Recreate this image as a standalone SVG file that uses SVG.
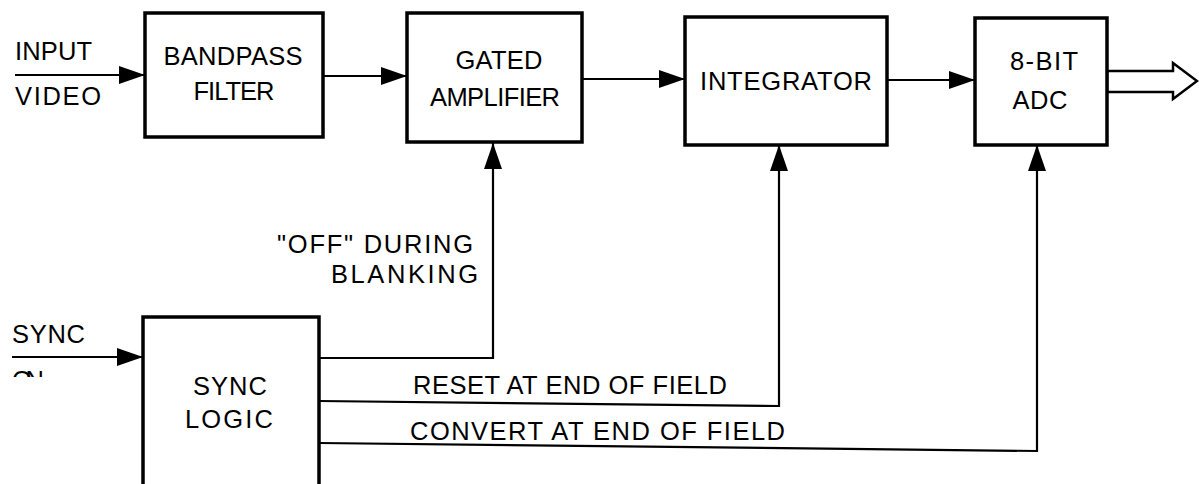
<svg xmlns="http://www.w3.org/2000/svg" width="1199" height="484" viewBox="0 0 1199 484">
  <style>
    .box { fill: #fff; stroke: #000; stroke-width: 3.5; }
    .wire { fill: none; stroke: #000; stroke-width: 2.2; }
    .lbl { font-family: "Liberation Sans", Arial, sans-serif; font-size: 25.5px; fill: #000; }
    .mid { text-anchor: middle; }
  </style>
  <defs>
    <marker id="arr" markerUnits="userSpaceOnUse" markerWidth="28" markerHeight="20" refX="26" refY="9" orient="auto">
      <path d="M0,0 L26,9 L0,18 Z" fill="#000"/>
    </marker>
    <clipPath id="clipOn">
      <rect x="0" y="360" width="120" height="17"/>
    </clipPath>
  </defs>

  <g id="connectors">
    <line class="wire" x1="15" y1="75" x2="145" y2="75" marker-end="url(#arr)"/>
    <line class="wire" x1="323" y1="76" x2="407" y2="76" marker-end="url(#arr)"/>
    <line class="wire" x1="582" y1="79" x2="685" y2="79" marker-end="url(#arr)"/>
    <line class="wire" x1="887" y1="80" x2="975" y2="80" marker-end="url(#arr)"/>
    <line class="wire" x1="12" y1="357" x2="143" y2="357" marker-end="url(#arr)"/>
    <polyline class="wire" points="319,358 493,358 493,143" marker-end="url(#arr)"/>
    <polyline class="wire" points="319,401 779,406 779,145" marker-end="url(#arr)"/>
    <polyline class="wire" points="319,443 1037,451 1037,145" marker-end="url(#arr)"/>
    <polygon id="output-arrow" points="1107,71 1173,71 1173,63 1197,81 1173,99 1173,92 1107,92" fill="#fff" stroke="#000" stroke-width="2.5" stroke-linejoin="miter"/>
  </g>

  <g id="input-labels">
    <text class="lbl" x="15" y="60" textLength="77">INPUT</text>
    <text class="lbl" x="15" y="105" textLength="86">VIDEO</text>
    <text class="lbl" x="12" y="343" textLength="73">SYNC</text>
    <text class="lbl" x="12" y="389" textLength="32" clip-path="url(#clipOn)">ON</text>
  </g>

  <g id="bandpass-filter">
    <rect class="box" x="145" y="13" width="178" height="124"/>
    <text class="lbl mid" x="233" y="65" textLength="139">BANDPASS</text>
    <text class="lbl mid" x="234" y="100" textLength="81">FILTER</text>
  </g>

  <g id="gated-amplifier">
    <rect class="box" x="407" y="13" width="175" height="129"/>
    <text class="lbl mid" x="499" y="69" textLength="87">GATED</text>
    <text class="lbl mid" x="495" y="106" textLength="130">AMPLIFIER</text>
  </g>

  <g id="integrator">
    <rect class="box" x="685" y="17" width="202" height="128"/>
    <text class="lbl mid" x="786" y="90" textLength="172">INTEGRATOR</text>
  </g>

  <g id="adc">
    <rect class="box" x="975" y="18" width="132" height="127"/>
    <text class="lbl mid" x="1044" y="70" textLength="68">8-BIT</text>
    <text class="lbl mid" x="1040" y="109" textLength="55">ADC</text>
  </g>

  <g id="sync-logic">
    <rect class="box" x="143" y="317" width="176" height="190"/>
    <text class="lbl mid" x="230" y="395" textLength="74">SYNC</text>
    <text class="lbl mid" x="229" y="428" textLength="88">LOGIC</text>
  </g>

  <g id="signal-labels">
    <text class="lbl" x="277" y="253" textLength="196">"OFF" DURING</text>
    <text class="lbl" x="331" y="283" textLength="147">BLANKING</text>
    <text class="lbl" x="413" y="394" textLength="314">RESET AT END OF FIELD</text>
    <text class="lbl" x="410" y="440" textLength="375">CONVERT AT END OF FIELD</text>
  </g>
</svg>
